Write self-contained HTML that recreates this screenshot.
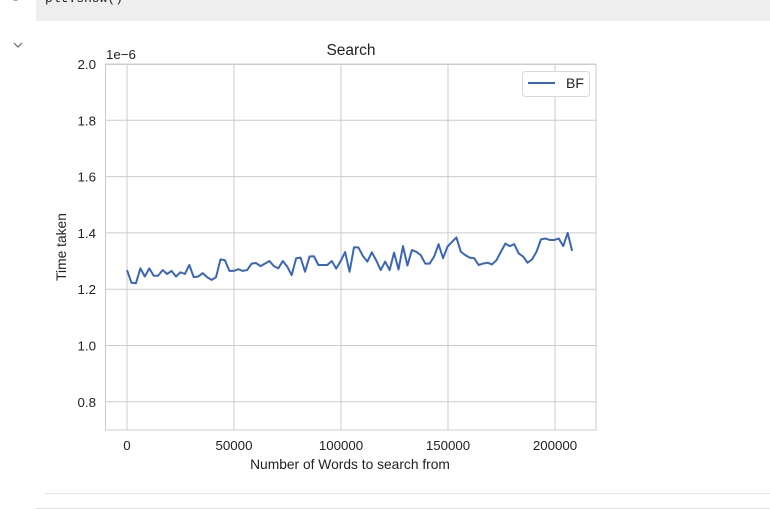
<!DOCTYPE html>
<html><head><meta charset="utf-8"><style>
body{margin:0;background:#fff;width:770px;height:509px;overflow:hidden;position:relative;font-family:"Liberation Sans",sans-serif}
</style></head><body>
<div style="position:absolute;left:36px;top:0;width:734px;height:21px;background:#eeeeee"></div>
<div style="position:absolute;left:45px;top:-9px;font-family:'Liberation Mono',monospace;font-size:13px;color:#222">plt.show()</div>
<div style="position:absolute;left:12px;top:-9px;font-family:'Liberation Mono',monospace;font-size:12px;color:#999">3</div>
<svg width="770" height="509" style="position:absolute;left:0;top:0" id="chart">
<path d="M14 43 L18 47 L22 43" fill="none" stroke="#666" stroke-width="1.2"/>
<line x1="45" y1="493.5" x2="770" y2="493.5" stroke="#e6e6e6"/>
<line x1="36" y1="508.5" x2="770" y2="508.5" stroke="#e0e0e0"/>
<g id="grid"></g>
<rect x="105.5" y="64.5" width="490.5" height="365.5" fill="none" stroke="#cccccc" stroke-width="1"/>
<polyline id="line" fill="none" stroke="#3a66b8" stroke-width="2" stroke-linejoin="round"/>
<g id="labels" font-size="13.3" fill="#222"></g>
<text x="351" y="55" text-anchor="middle" font-size="15.5" fill="#222">Search</text>
<text x="350" y="469" text-anchor="middle" font-size="13.8" fill="#222">Number of Words to search from</text>
<text transform="translate(66,247) rotate(-90)" text-anchor="middle" font-size="13.8" fill="#222">Time taken</text>
<text x="106" y="59" font-size="13.3" fill="#222">1e−6</text>
<g>
<rect x="522.5" y="71.5" width="67" height="25" rx="3" fill="#fff" stroke="#d8d8d8"/>
<line x1="528" y1="83" x2="555" y2="83" stroke="#3a66b8" stroke-width="2"/>
<text x="566" y="88" font-size="14" fill="#222">BF</text>
</g>
</svg>
<script>
const xTicks=[0,50000,100000,150000,200000];
const yTicks=[0.8,1.0,1.2,1.4,1.6,1.8,2.0];
const step=2080;
const bfTimes=[1.268,1.223,1.221,1.274,1.245,1.274,1.248,1.248,1.268,1.254,1.265,1.245,1.26,1.254,1.286,1.243,1.245,1.257,1.243,1.233,1.243,1.306,1.303,1.265,1.265,1.271,1.265,1.268,1.291,1.293,1.282,1.291,1.30,1.282,1.274,1.30,1.28,1.25,1.31,1.312,1.262,1.316,1.317,1.286,1.286,1.286,1.30,1.273,1.30,1.332,1.262,1.349,1.348,1.318,1.298,1.331,1.302,1.268,1.298,1.268,1.33,1.27,1.353,1.284,1.339,1.333,1.321,1.291,1.291,1.316,1.36,1.31,1.351,1.368,1.384,1.333,1.321,1.312,1.31,1.286,1.291,1.294,1.288,1.303,1.333,1.362,1.353,1.36,1.327,1.316,1.294,1.306,1.333,1.377,1.38,1.375,1.375,1.38,1.353,1.4,1.336];
const X=v=>127+v*107/50000;
const Y=v=>64+(2.0-v)*281.5;
const ns="http://www.w3.org/2000/svg";
const grid=document.getElementById('grid'),labels=document.getElementById('labels');
xTicks.forEach(t=>{
 const l=document.createElementNS(ns,'line');
 
 
 l.setAttribute('x1',X(t));l.setAttribute('x2',X(t));l.setAttribute('y1',64);l.setAttribute('y2',430);l.setAttribute('stroke','#cccccc');
 grid.appendChild(l);
 const tx=document.createElementNS(ns,'text');
 
 
 tx.setAttribute('x',X(t));tx.setAttribute('y',450);tx.setAttribute('text-anchor','middle');tx.textContent=t;
 labels.appendChild(tx);
});
yTicks.forEach(t=>{
 const l=document.createElementNS(ns,'line');
 
 
 l.setAttribute('x1',105);l.setAttribute('x2',596);l.setAttribute('y1',Y(t));l.setAttribute('y2',Y(t));l.setAttribute('stroke','#cccccc');
 grid.appendChild(l);
 const tx=document.createElementNS(ns,'text');
 
 
 tx.setAttribute('x',96);tx.setAttribute('y',Y(t)+5);tx.setAttribute('text-anchor','end');tx.textContent=t.toFixed(1);
 labels.appendChild(tx);
});
document.getElementById('line').setAttribute('points',bfTimes.map((v,i)=>X(i*step)+','+Y(v)).join(' '));
</script>
</body></html>
